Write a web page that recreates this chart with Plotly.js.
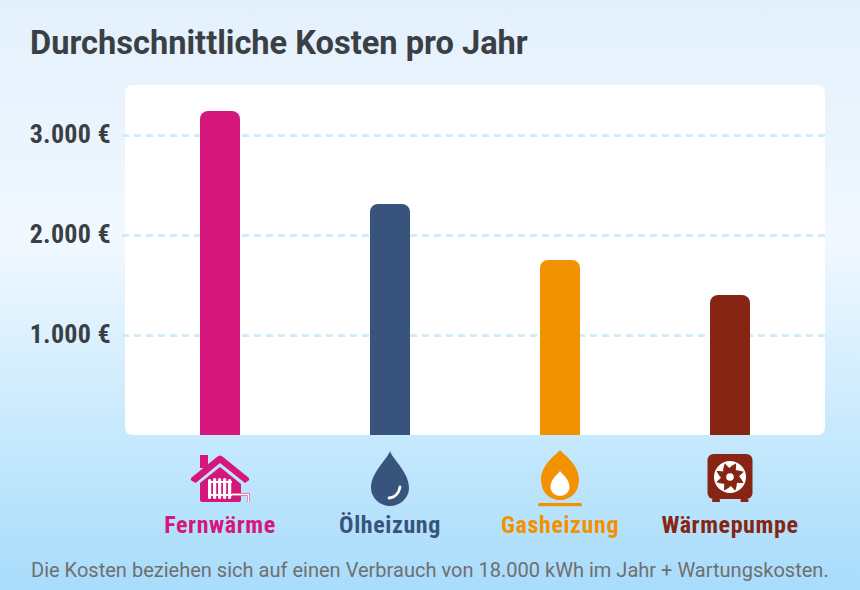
<!DOCTYPE html>
<html>
<head>
<meta charset="utf-8">
<script src="https://cdn.plot.ly/plotly-3.0.1.min.js"></script>
<style>
html,body{margin:0;padding:0;width:860px;height:590px;overflow:hidden}
body{background:linear-gradient(180deg,#e3f0fc 0px,#f1f8ff 240px,#c6e9fd 435px,#a8dcfb 590px)}
#chart{width:860px;height:590px}
</style>
</head>
<body>
<div id="chart"></div>
<script>
const categories = ['Fernwärme','Ölheizung','Gasheizung','Wärmepumpe'];
const costs = [3240,2310,1750,1400];
const colors = ['#d5177b','#39547c','#f39200','#862513'];
const tickValues = [1000,2000,3000];
const tickLabels = ['1.000 €','2.000 €','3.000 €'];
const titleText = 'Durchschnittliche Kosten pro Jahr';
const noteText = 'Die Kosten beziehen sich auf einen Verbrauch von 18.000 kWh im Jahr + Wartungskosten.';

const W=860,H=590;
const px=x=>x/W, py=y=>1-y/H;
function svgUri(w,h,body){
  return 'data:image/svg+xml;charset=utf-8,'+encodeURIComponent(
    `<svg xmlns="http://www.w3.org/2000/svg" width="${w}" height="${h}" viewBox="0 0 ${w} ${h}">${body}</svg>`);
}
function petals(){
  let s='';
  for(let i=0;i<8;i++){
    s+=`<path transform="rotate(${i*45} 23 23)" d="M18.500 18 Q22 13 29 9.500 Q29.500 16 27.500 21 Z" fill="#862513"/>`;
  }
  return s;
}
const icons = [
 {x:190,y:454,w:60,h:50,body:`
  <rect x="10" y="1" width="8" height="13" fill="#d5177b"/>
  <path d="M1 24 L27 3 Q30 0 33 3 L59 24 Q60 26 58 27 L55 29 L30 9 L5.700 29 L2 27 Q0 26 1 24 Z" fill="#d5177b"/>
  <path d="M10 29 L30 13 L51 30 V46 Q51 48 49 48 H12 Q10 48 10 46 Z" fill="#d5177b"/>
  <g fill="#fff"><rect x="18" y="25" width="3.200" height="20" rx="1.500"/><rect x="23" y="24" width="3.200" height="21" rx="1.500"/><rect x="28" y="24" width="3.200" height="21" rx="1.500"/><rect x="33" y="24" width="3.200" height="21" rx="1.500"/><rect x="38" y="25" width="3.200" height="20" rx="1.500"/><rect x="18" y="27" width="24" height="2"/><rect x="18" y="40" width="24" height="2"/></g>
  <path d="M42 40.500 H58.500 V48" fill="none" stroke="#ea7db6" stroke-width="3"/>
  <path d="M42 40.500 H58.500 V48" fill="none" stroke="#ffffff" stroke-width="1.200"/>`},
 {x:370,y:450,w:40,h:58,body:`
  <path d="M20 1 C17 10 1 22 1 38 C1 48 10 56 20 56 C30 56 39 48 39 38 C39 22 23 10 20 1 Z" fill="#39547c"/>
  <path d="M19 48 C25 47.500 29 43 30 37" fill="none" stroke="#fff" stroke-width="2.800" stroke-linecap="round"/>`},
 {x:535,y:448,w:50,h:62,body:`
  <path d="M25 2 C22 6 6 16 6 32 C6 44 14 52 25 52 C36 52 44 44 44 32 C44 16 28 6 25 2 Z" fill="#f39200"/>
  <path d="M25 23 C23 26 15.500 31 15.500 39 C15.500 44 20 48 25 48 C30 48 34.500 44 34.500 39 C34.500 31 27 26 25 23 Z" fill="#fff"/>
  <rect x="3" y="55" width="44" height="3.200" rx="1.600" fill="#f39200"/>`},
 {x:707,y:454,w:46,h:50,body:`
  <rect x="0.500" y="0" width="45" height="45" rx="6" fill="#862513"/>
  <rect x="5" y="45" width="8" height="3" rx="1" fill="#862513"/><rect x="33.500" y="45" width="8" height="3" rx="1" fill="#862513"/>
  <circle cx="23" cy="23" r="16" fill="#fff"/>${petals()}<circle cx="23" cy="23" r="8" fill="#862513"/><circle cx="23" cy="23" r="3.800" fill="#fff"/>`}
];

const data=[{
  type:'bar',
  x:categories.map((c,i)=>i),
  y:costs,
  width:40/170,
  marker:{color:colors,line:{width:0}},
  hoverinfo:'skip'
}];

const cardL=125,cardR=825,cardT=85,cardB=435,r=8;
const cardPath=
 `M ${px(cardL+r)} ${py(cardT)} L ${px(cardR-r)} ${py(cardT)} Q ${px(cardR)} ${py(cardT)} ${px(cardR)} ${py(cardT+r)} `+
 `L ${px(cardR)} ${py(cardB-r)} Q ${px(cardR)} ${py(cardB)} ${px(cardR-r)} ${py(cardB)} `+
 `L ${px(cardL+r)} ${py(cardB)} Q ${px(cardL)} ${py(cardB)} ${px(cardL)} ${py(cardB-r)} `+
 `L ${px(cardL)} ${py(cardT+r)} Q ${px(cardL)} ${py(cardT)} ${px(cardL+r)} ${py(cardT)} Z`;

const narrow="'Roboto Condensed','Liberation Sans Narrow',Roboto";
const layout={
  width:W,height:H,
  margin:{l:0,r:0,t:0,b:0},
  paper_bgcolor:'rgba(0,0,0,0)',
  plot_bgcolor:'rgba(0,0,0,0)',
  barcornerradius:8,
  showlegend:false,
  title:{text:'<b>'+titleText+'</b>',x:30/W,xanchor:'left',xref:'paper',y:1-43/H,yanchor:'middle',
         font:{family:'Roboto',size:32.600,color:'#3a3f44'}},
  xaxis:{
    domain:[122/W,827/W],
    range:[(122-220)/170,(827-220)/170],
    tickmode:'array',
    tickvals:categories.map((c,i)=>i),
    ticktext:categories.map((c,i)=>`<span style="color:${colors[i]};letter-spacing:0.6px"><b>${c}</b></span>`),
    tickfont:{family:narrow,size:24},
    ticks:'',showline:false,showgrid:false,zeroline:false,
    ticklabelstandoff:73,
    fixedrange:true
  },
  yaxis:{
    domain:[1-435/H,1-85/H],
    range:[0,3500],
    tickmode:'array',
    tickvals:tickValues,
    ticktext:tickLabels.map(t=>'<span style="letter-spacing:0.3px;baseline-shift:1.5px"><b>'+t+'</b></span>'),
    tickfont:{family:narrow,size:26,color:'#3a3f44'},
    ticks:'',showline:false,zeroline:false,
    showgrid:true,gridcolor:'#d3ecfc',gridwidth:3,griddash:'7px,5px',
    ticklabelstandoff:10,
    fixedrange:true
  },
  shapes:[{type:'path',xref:'paper',yref:'paper',path:cardPath,fillcolor:'#ffffff',line:{width:0},layer:'below'}],
  images:icons.map(ic=>({
    source:svgUri(ic.w,ic.h,ic.body),
    xref:'paper',yref:'paper',x:px(ic.x),y:py(ic.y),
    sizex:ic.w/W,sizey:ic.h/H,xanchor:'left',yanchor:'top',layer:'above',sizing:'stretch'
  })),
  annotations:[{
    text:noteText,xref:'paper',yref:'paper',x:430/W,y:py(570),xanchor:'center',yanchor:'middle',
    showarrow:false,font:{family:'Roboto',size:20.050,color:'#6f6f6f'}
  }]
};
Plotly.newPlot('chart',data,layout,{displayModeBar:false,staticPlot:true});
</script>
</body>
</html>
